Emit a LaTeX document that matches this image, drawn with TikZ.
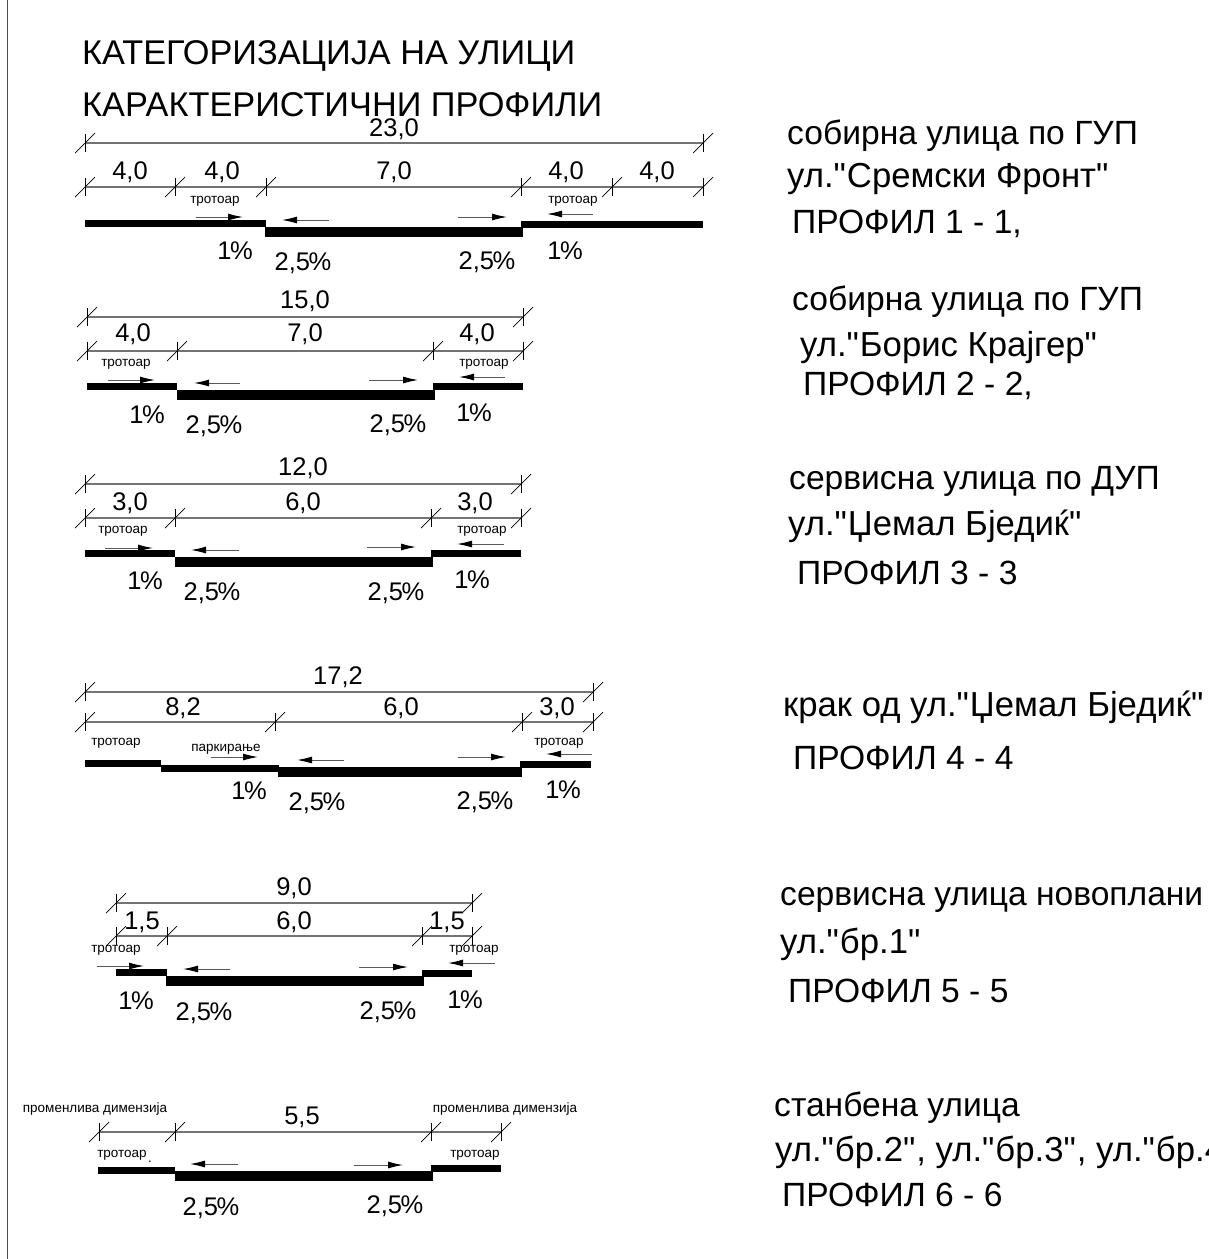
\documentclass[tikz,border=0pt]{standalone}
\usepackage{fontspec}
\setmainfont{Liberation Sans}
\usetikzlibrary{arrows.meta}
\tikzset{
    big/.style={inner sep=0pt,yshift=-3pt,font=\fontsize{34.3}{36}\selectfont},
    info/.style={inner sep=0pt,anchor=west,yshift=-2pt,font=\fontsize{33.6}{36}\selectfont},
    infowide/.style={info,font=\fontsize{34.7}{36}\selectfont},
    size/.style={inner sep=0pt,yshift=-2pt,font=\fontsize{25.5}{28}\selectfont},
    small/.style={inner sep=0pt,yshift=-2pt,font=\fontsize{13.5}{15}\selectfont},
    dimline/.style={line width=1.3pt,black!55},
    tickline/.style={line width=.7pt,black},
    flow/.style={line width=1pt,black!65,-{Latex[length=15pt,width=7pt,black]}},
}
\newcommand{\qt}{\XeTeXglyph\XeTeXcharglyph"0022\relax\kern1pt\relax}
\newcommand{\pc}{\kern-1.5pt\%}
\newcommand{\dimticks}[2]{%
    \foreach \x in {#2} {
        \draw[tickline] (\x,#1-9) -- (\x,#1+9);
        \draw[tickline] (\x-10,#1+10) -- (\x+10,#1-10);
    }}
\begin{document}
\begin{tikzpicture}[x=1pt,y=-1pt]
    \clip (0,0) rectangle (1209,1259);
    \draw[line width=1pt,black!70] (7,0) -- (7,1259);
    % title
    \node[big,anchor=west] (title1) at (82,53) {КАТЕГОРИЗАЦИЈА НА УЛИЦИ};
    \node[big,anchor=west] (title2) at (82,102) {КАРАКТЕРИСТИЧНИ ПРОФИЛИ};
    % profile 1
    \draw[dimline] (85,143) -- (703,143);
    \draw[dimline] (85,187) -- (703,187);
    \dimticks{143}{85,703}
    \dimticks{187}{85,175,266,521,612,703}
    \fill (85,220) rectangle (266,227);
    \fill (265,227) rectangle (523,237);
    \fill (521,221) rectangle (703,228);
    \draw[flow] (196,217) -- (243,217);
    \draw[flow] (329,220) -- (282,220);
    \draw[flow] (458,217) -- (507,217);
    \draw[flow] (593,214) -- (547,214);
    \node[size] (a1) at (394,127) {23,0};
    \node[size] (a2) at (130,170) {4,0};
    \node[size] (a3) at (222,170) {4,0};
    \node[size] (a4) at (394,170) {7,0};
    \node[size] (a5) at (566,170) {4,0};
    \node[size] (a6) at (657,170) {4,0};
    \node[small] (a7) at (215,199) {тротоар};
    \node[small] (a8) at (573,199) {тротоар};
    \node[size] (a9) at (235,249) {1\pc};
    \node[size] (a10) at (565,249) {1\pc};
    \node[size] (a11) at (303,261) {2,5\pc};
    \node[size] (a12) at (487,260) {2,5\pc};
    \node[info] (a13) at (787,134) {собирна улица по ГУП};
    \node[infowide] (a14) at (787,177) {ул.\qt Сремски Фронт\qt};
    \node[info] (a15) at (792,222) {ПРОФИЛ 1 - 1,};
    % profile 2
    \draw[dimline] (87,317) -- (523,317);
    \draw[dimline] (87,351) -- (523,351);
    \dimticks{317}{87,523}
    \dimticks{351}{87,177,433,523}
    \fill (87,383) rectangle (177,390);
    \fill (177,390) rectangle (435,400);
    \fill (433,383) rectangle (523,390);
    \draw[flow] (108,380) -- (155,380);
    \draw[flow] (240,383) -- (194,383);
    \draw[flow] (369,380) -- (418,380);
    \draw[flow] (505,377) -- (459,377);
    \node[size] (b1) at (305,299) {15,0};
    \node[size] (b2) at (133,332) {4,0};
    \node[size] (b3) at (305,332) {7,0};
    \node[size] (b4) at (477,332) {4,0};
    \node[small] (b5) at (126,362) {тротоар};
    \node[small] (b6) at (484,362) {тротоар};
    \node[size] (b7) at (147,413) {1\pc};
    \node[size] (b8) at (474,411) {1\pc};
    \node[size] (b9) at (214,424) {2,5\pc};
    \node[size] (b10) at (398,423) {2,5\pc};
    \node[info] (b11) at (792,300) {собирна улица по ГУП};
    \node[infowide] (b12) at (800,346) {ул.\qt Борис Крајгер\qt};
    \node[info] (b13) at (803,384) {ПРОФИЛ 2 - 2,};
    % profile 3
    \draw[dimline] (85,484) -- (521,484);
    \draw[dimline] (85,518) -- (521,518);
    \dimticks{484}{85,521}
    \dimticks{518}{85,175,431,521}
    \fill (85,550) rectangle (175,557);
    \fill (175,557) rectangle (433,567);
    \fill (431,550) rectangle (521,557);
    \draw[flow] (105,548) -- (153,548);
    \draw[flow] (239,550) -- (191,550);
    \draw[flow] (367,547) -- (416,547);
    \draw[flow] (504,544) -- (457,544);
    \node[size] (c1) at (303,466) {12,0};
    \node[size] (c2) at (130,501) {3,0};
    \node[size] (c3) at (303,501) {6,0};
    \node[size] (c4) at (475,501) {3,0};
    \node[small] (c5) at (123,529) {тротоар};
    \node[small] (c6) at (482,529) {тротоар};
    \node[size] (c7) at (145,579) {1\pc};
    \node[size] (c8) at (472,578) {1\pc};
    \node[size] (c9) at (212,591) {2,5\pc};
    \node[size] (c10) at (396,591) {2,5\pc};
    \node[info] (c11) at (789,479) {сервисна улица по ДУП};
    \node[infowide] (c12) at (788,524) {ул.\qt Џемал Бједиќ\qt};
    \node[info] (c13) at (797,571) {ПРОФИЛ 3 - 3};
    % profile 4
    \draw[dimline] (85,692) -- (593,692);
    \draw[dimline] (85,722) -- (593,722);
    \dimticks{692}{85,593}
    \dimticks{722}{85,275,522,593}
    \fill (85,760) rectangle (161,767);
    \fill (161,765) rectangle (279,772);
    \fill (278,767) rectangle (522,777);
    \fill (520,761) rectangle (591,768);
    \draw[flow] (211,757) -- (258,757);
    \draw[flow] (344,760) -- (297,760);
    \draw[flow] (458,757) -- (506,757);
    \draw[flow] (592,754) -- (546,754);
    \node[size] (d1) at (338,675) {17,2};
    \node[size] (d2) at (183,706) {8,2};
    \node[size] (d3) at (401,706) {6,0};
    \node[size] (d4) at (557,706) {3,0};
    \node[small] (d5) at (116,741) {тротоар};
    \node[small] (d6) at (226,747) {паркирање};
    \node[small] (d7) at (559,741) {тротоар};
    \node[size] (d8) at (249,789) {1\pc};
    \node[size] (d9) at (563,788) {1\pc};
    \node[size] (d10) at (317,801) {2,5\pc};
    \node[size] (d11) at (485,800) {2,5\pc};
    \node[infowide] (d12) at (783,705) {крак од ул.\qt Џемал Бједиќ\qt};
    \node[info] (d13) at (793,756) {ПРОФИЛ 4 - 4};
    % profile 5
    \draw[dimline] (116,903) -- (472,903);
    \draw[dimline] (116,936) -- (472,936);
    \dimticks{903}{116,472}
    \dimticks{936}{116,167,422,472}
    \fill (116,969) rectangle (167,976);
    \fill (166,976) rectangle (424,986);
    \fill (422,970) rectangle (472,977);
    \draw[flow] (97,966) -- (144,966);
    \draw[flow] (230,969) -- (183,969);
    \draw[flow] (359,967) -- (408,967);
    \draw[flow] (495,963) -- (448,963);
    \node[size] (e1) at (294,886) {9,0};
    \node[size] (e2) at (142,920) {1,5};
    \node[size] (e3) at (294,920) {6,0};
    \node[size] (e4) at (447,920) {1,5};
    \node[small] (e5) at (116,948) {тротоар};
    \node[small] (e6) at (474,948) {тротоар};
    \node[size] (e7) at (136,999) {1\pc};
    \node[size] (e8) at (465,998) {1\pc};
    \node[size] (e9) at (204,1011) {2,5\pc};
    \node[size] (e10) at (388,1010) {2,5\pc};
    \node[info] (e11) at (780,898) {сервисна улица новоплани};
    \node[infowide] (e12) at (780,942) {ул.\qt бр.1\qt};
    \node[info] (e13) at (788,989) {ПРОФИЛ 5 - 5};
    % profile 6
    \draw[dimline] (99,1132) -- (501,1132);
    \dimticks{1132}{99,175,431,501}
    \fill (98,1167) rectangle (175,1174);
    \fill (175,1171) rectangle (433,1181);
    \fill (431,1165) rectangle (501,1172);
    \draw[flow] (238,1164) -- (190,1164);
    \draw[flow] (354,1165) -- (403,1165);
    \node[small] (f1) at (95,1107) {променлива димензија};
    \node[small] (f2) at (505,1107) {променлива димензија};
    \node[size] (f3) at (302,1115) {5,5};
    \node[small] (f4) at (122,1153) {тротоар};
    \node[small] (f5) at (150,1160) {.};
    \node[small] (f6) at (475,1153) {тротоар};
    \node[size] (f7) at (211,1206) {2,5\pc};
    \node[size] (f8) at (395,1204) {2,5\pc};
    \node[info] (f9) at (774,1106) {станбена улица};
    \node[infowide] (f10) at (775,1150) {ул.\qt бр.2\qt, ул.\qt бр.3\qt, ул.\qt бр.4};
    \node[info] (f11) at (782,1193) {ПРОФИЛ 6 - 6};
\end{tikzpicture}
\end{document}
